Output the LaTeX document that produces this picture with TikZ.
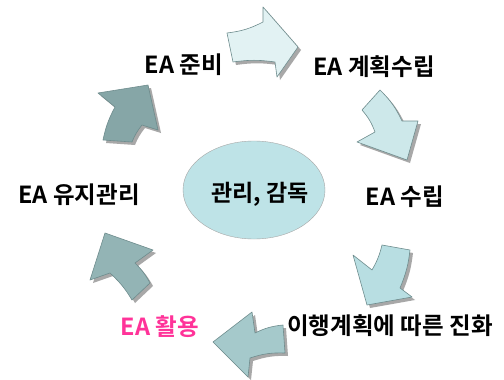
\documentclass[tikz,border=0pt]{standalone}
\usepackage{fontspec}
\usetikzlibrary{shapes.geometric}
\newfontfamily\kr{Noto Sans CJK KR}[BoldFont={* Bold}]
\definecolor{edgec}{HTML}{6E8C8D}
\definecolor{shadowc}{HTML}{A8A8A8}
\definecolor{cA}{HTML}{E2F2F3}
\definecolor{cB}{HTML}{CDE8EA}
\definecolor{cC}{HTML}{B8DEE2}
\definecolor{cD}{HTML}{A5C9CB}
\definecolor{cE}{HTML}{93B4B5}
\definecolor{cF}{HTML}{86A6A7}
\definecolor{ellc}{HTML}{BEE3E7}
\definecolor{pinkc}{HTML}{FF3399}
\tikzset{
  blk/.style={draw=edgec, line width=0.6pt, line join=round,
    preaction={fill=shadowc, transform canvas={shift={(3,3)}}}},
  lbl/.style={font=\kr\bfseries\fontsize{23.5}{26}\selectfont, inner sep=0pt, text=black}
}
\begin{document}
\begin{tikzpicture}[x=1pt,y=-1pt]
\useasboundingbox (0,0) rectangle (504,380);
\fill[white] (0,0) rectangle (504,380);
% block arrows
\path[blk,fill=cA] (227,33) to[bend right=10] (263,22) -- (263,7) -- (298,47) -- (277,77) -- (275,62) to[bend right=8] (233,62) -- cycle;
\path[blk,fill=cB] (380,90) to[bend left=10] (402,121) -- (418,121) -- (407,160) -- (357,142) -- (375,132) to[bend right=10] (362,110) -- cycle;
\path[blk,fill=cC] (410,250) to[bend left=8] (400,288) -- (412,297) -- (367,305) -- (353,255) -- (372,270) to[bend right=8] (382,245) -- cycle;
\path[blk,fill=cD] (283,325) to[bend right=10] (255,333) -- (252,312) -- (213,342) -- (248,377) -- (250,358) to[bend left=10] (285,353) -- cycle;
\path[blk,fill=cE] (105,233) -- (153,250) -- (135,263) to[bend left=8] (150,283) -- (132,300) to[bend right=8] (110,273) -- (90,280) -- cycle;
\path[blk,fill=cF] (148,85) -- (98,93) -- (115,107) to[bend right=8] (103,140) -- (132,142) to[bend left=8] (142,125) -- (158,130) -- cycle;
% centre
\node[ellipse, draw=black!35, fill=ellc, minimum width=142pt, minimum height=98pt, inner sep=0pt] (core) at (254,190) {};
\node[lbl, font=\kr\bfseries\fontsize{23}{26}\selectfont] (coret) at (260,194) {관리, 감독};
% labels
\node[lbl] (s1) at (184,65) {EA 준비};
\node[lbl] (s2) at (374,67) {EA 계획수립};
\node[lbl] (s3) at (405,197) {EA 수립};
\node[lbl] (s4) at (390,326) {이행계획에 따른 진화};
\node[lbl, text=pinkc] (s5) at (160,327) {EA 활용};
\node[lbl] (s6) at (79,195) {EA 유지관리};
\end{tikzpicture}
\end{document}
